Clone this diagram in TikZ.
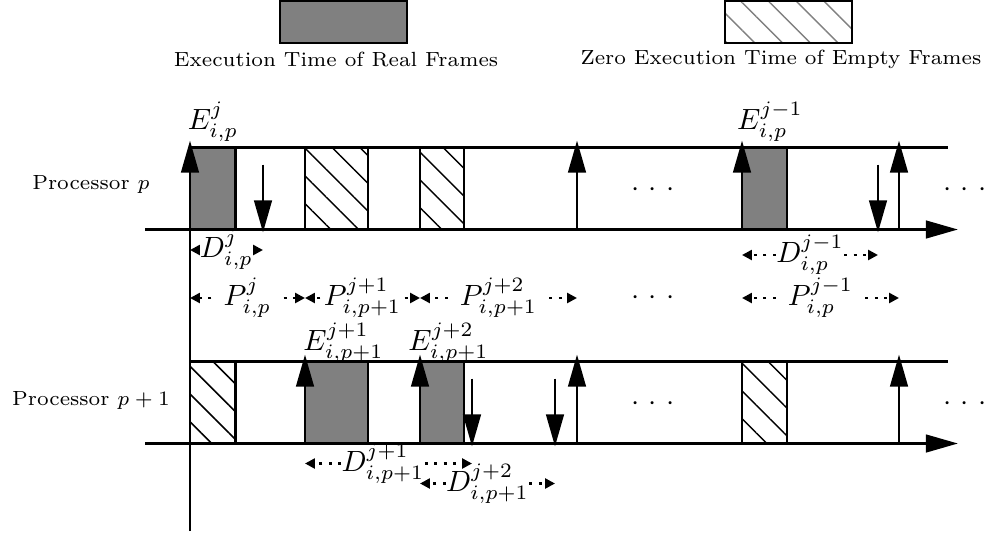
\documentclass[tikz,border=0pt]{standalone}
\usetikzlibrary{arrows.meta,patterns.meta}

\newcommand{\gapdots}{$\cdotp\,\cdotp\,\cdotp$}

\tikzset{
  frm/.style={line width=1pt},
  realbox/.style={frm, draw=black, fill=gray},
  emptybox/.style={frm, draw=black, pattern={Lines[angle=-45,distance=6.7pt,line width=0.5pt]}},
  tick/.style={line width=1pt, -{Triangle[length=11pt,width=6pt]}},
  timeaxis/.style={line width=1pt, -{Triangle[length=11pt,width=6pt]}},
  span/.style={line width=1pt, dash pattern=on 1pt off 2.2pt, -{Triangle[length=3.4pt,width=3.4pt]}},
  txt/.style={font=\scriptsize},
  dlbl/.style={inner sep=0pt},
  plbl/.style={inner sep=4pt}
}

\begin{document}
\begin{tikzpicture}[x=0.12cm, y=0.12cm]
  \useasboundingbox (0,0) rectangle (98.6,53.7);

  % legend
  \draw[realbox] (28.0,49.4) rectangle (40.7,53.6);
  \node[txt] (realtxt) at (33.6,47.8) {Execution Time of Real Frames};
  \draw[emptybox, pattern color=gray] (72.5,49.4) rectangle (85.2,53.6);
  \node[txt] (emptytxt) at (78.1,47.8) {Zero Execution Time of Empty Frames};

  % time origin
  \draw[frm] (19,0.6) -- (19,30.75);

  % processor p
  \node[txt] (procp) at (9.1,35.3) {Processor $p$};
  \begin{scope}[shift={(0,30.75)}]
    \draw[realbox] (19,0) rectangle (23.55,8.2);
    \draw[emptybox] (30.5,0) rectangle (36.8,8.2);
    \draw[emptybox] (42.0,0) rectangle (46.4,8.2);
    \draw[realbox] (74.2,0) rectangle (78.7,8.2);
    \draw[frm] (19,8.2) -- (94.8,8.2);
    \draw[timeaxis] (14.5,0) -- (95.8,0);
    \foreach \x in {19,57.7,74.2,89.9}
      \draw[tick] (\x,0) -- (\x,8.9);
    \foreach \x in {26.3,87.8}
      \draw[tick] (\x,6.5) -- (\x,-0.3);
    \node (dotsp) at (65.3,4) {\gapdots};
    \node (morep) at (96.5,4) {\gapdots};
  \end{scope}

  % processor p+1
  \node[txt] (procq) at (9.1,13.7) {Processor $p+1$};
  \begin{scope}[shift={(0,9.35)}]
    \draw[emptybox] (19,0) rectangle (23.55,8.2);
    \draw[realbox] (30.5,0) rectangle (36.8,8.2);
    \draw[realbox] (42.0,0) rectangle (46.4,8.2);
    \draw[emptybox] (74.2,0) rectangle (78.7,8.2);
    \draw[frm] (19,8.2) -- (94.8,8.2);
    \draw[timeaxis] (14.5,0) -- (95.8,0);
    \foreach \x in {30.5,42.0,57.7,89.9}
      \draw[tick] (\x,0) -- (\x,8.9);
    \foreach \x in {47.2,55.5}
      \draw[tick] (\x,6.5) -- (\x,-0.3);
    \node (dotsq) at (65.3,4) {\gapdots};
    \node (moreq) at (96.5,4) {\gapdots};
  \end{scope}

  % execution labels
  \node (ej) at (21.3,41.55) {$E^{j}_{i,p}$};
  \node (ejm) at (77.0,41.55) {$E^{j-1}_{i,p}$};
  \node (ej1) at (34.35,19.45) {$E^{j+1}_{i,p+1}$};
  \node (ej2) at (44.85,19.45) {$E^{j+2}_{i,p+1}$};

  % deadlines
  \node[dlbl] (dj) at (22.65,28.7) {$D^{j}_{i,p}$};
  \draw[span] (dj) -- (19,28.7);
  \draw[span] (dj) -- (26.3,28.7);
  \node[dlbl] (djm) at (81.0,28.2) {$D^{j-1}_{i,p}$};
  \draw[span] (djm) -- (74.2,28.2);
  \draw[span] (djm) -- (87.8,28.2);
  \node[dlbl] (dj1) at (38.3,7.35) {$D^{j+1}_{i,p+1}$};
  \draw[span] (dj1) -- (30.5,7.35);
  \draw[span] (dj1) -- (47.2,7.35);
  \node[dlbl] (dj2) at (48.75,5.35) {$D^{j+2}_{i,p+1}$};
  \draw[span] (dj2) -- (42.0,5.35);
  \draw[span] (dj2) -- (55.5,5.35);

  % periods
  \node[plbl] (pj) at (24.75,23.9) {$P^{j}_{i,p}$};
  \draw[span] (pj) -- (19,23.9);
  \draw[span] (pj) -- (30.5,23.9);
  \node[plbl, inner sep=1pt] (pj1) at (36.25,23.9) {$P^{j+1}_{i,p+1}$};
  \draw[span] (pj1) -- (30.5,23.9);
  \draw[span] (pj1) -- (42.0,23.9);
  \node[plbl] (pj2) at (49.85,23.9) {$P^{j+2}_{i,p+1}$};
  \draw[span] (pj2) -- (42.0,23.9);
  \draw[span] (pj2) -- (57.7,23.9);
  \node (dotsm) at (65.3,23.9) {\gapdots};
  \node[plbl] (pjm) at (82.05,23.9) {$P^{j-1}_{i,p}$};
  \draw[span] (pjm) -- (74.2,23.9);
  \draw[span] (pjm) -- (89.9,23.9);
\end{tikzpicture}
\end{document}
